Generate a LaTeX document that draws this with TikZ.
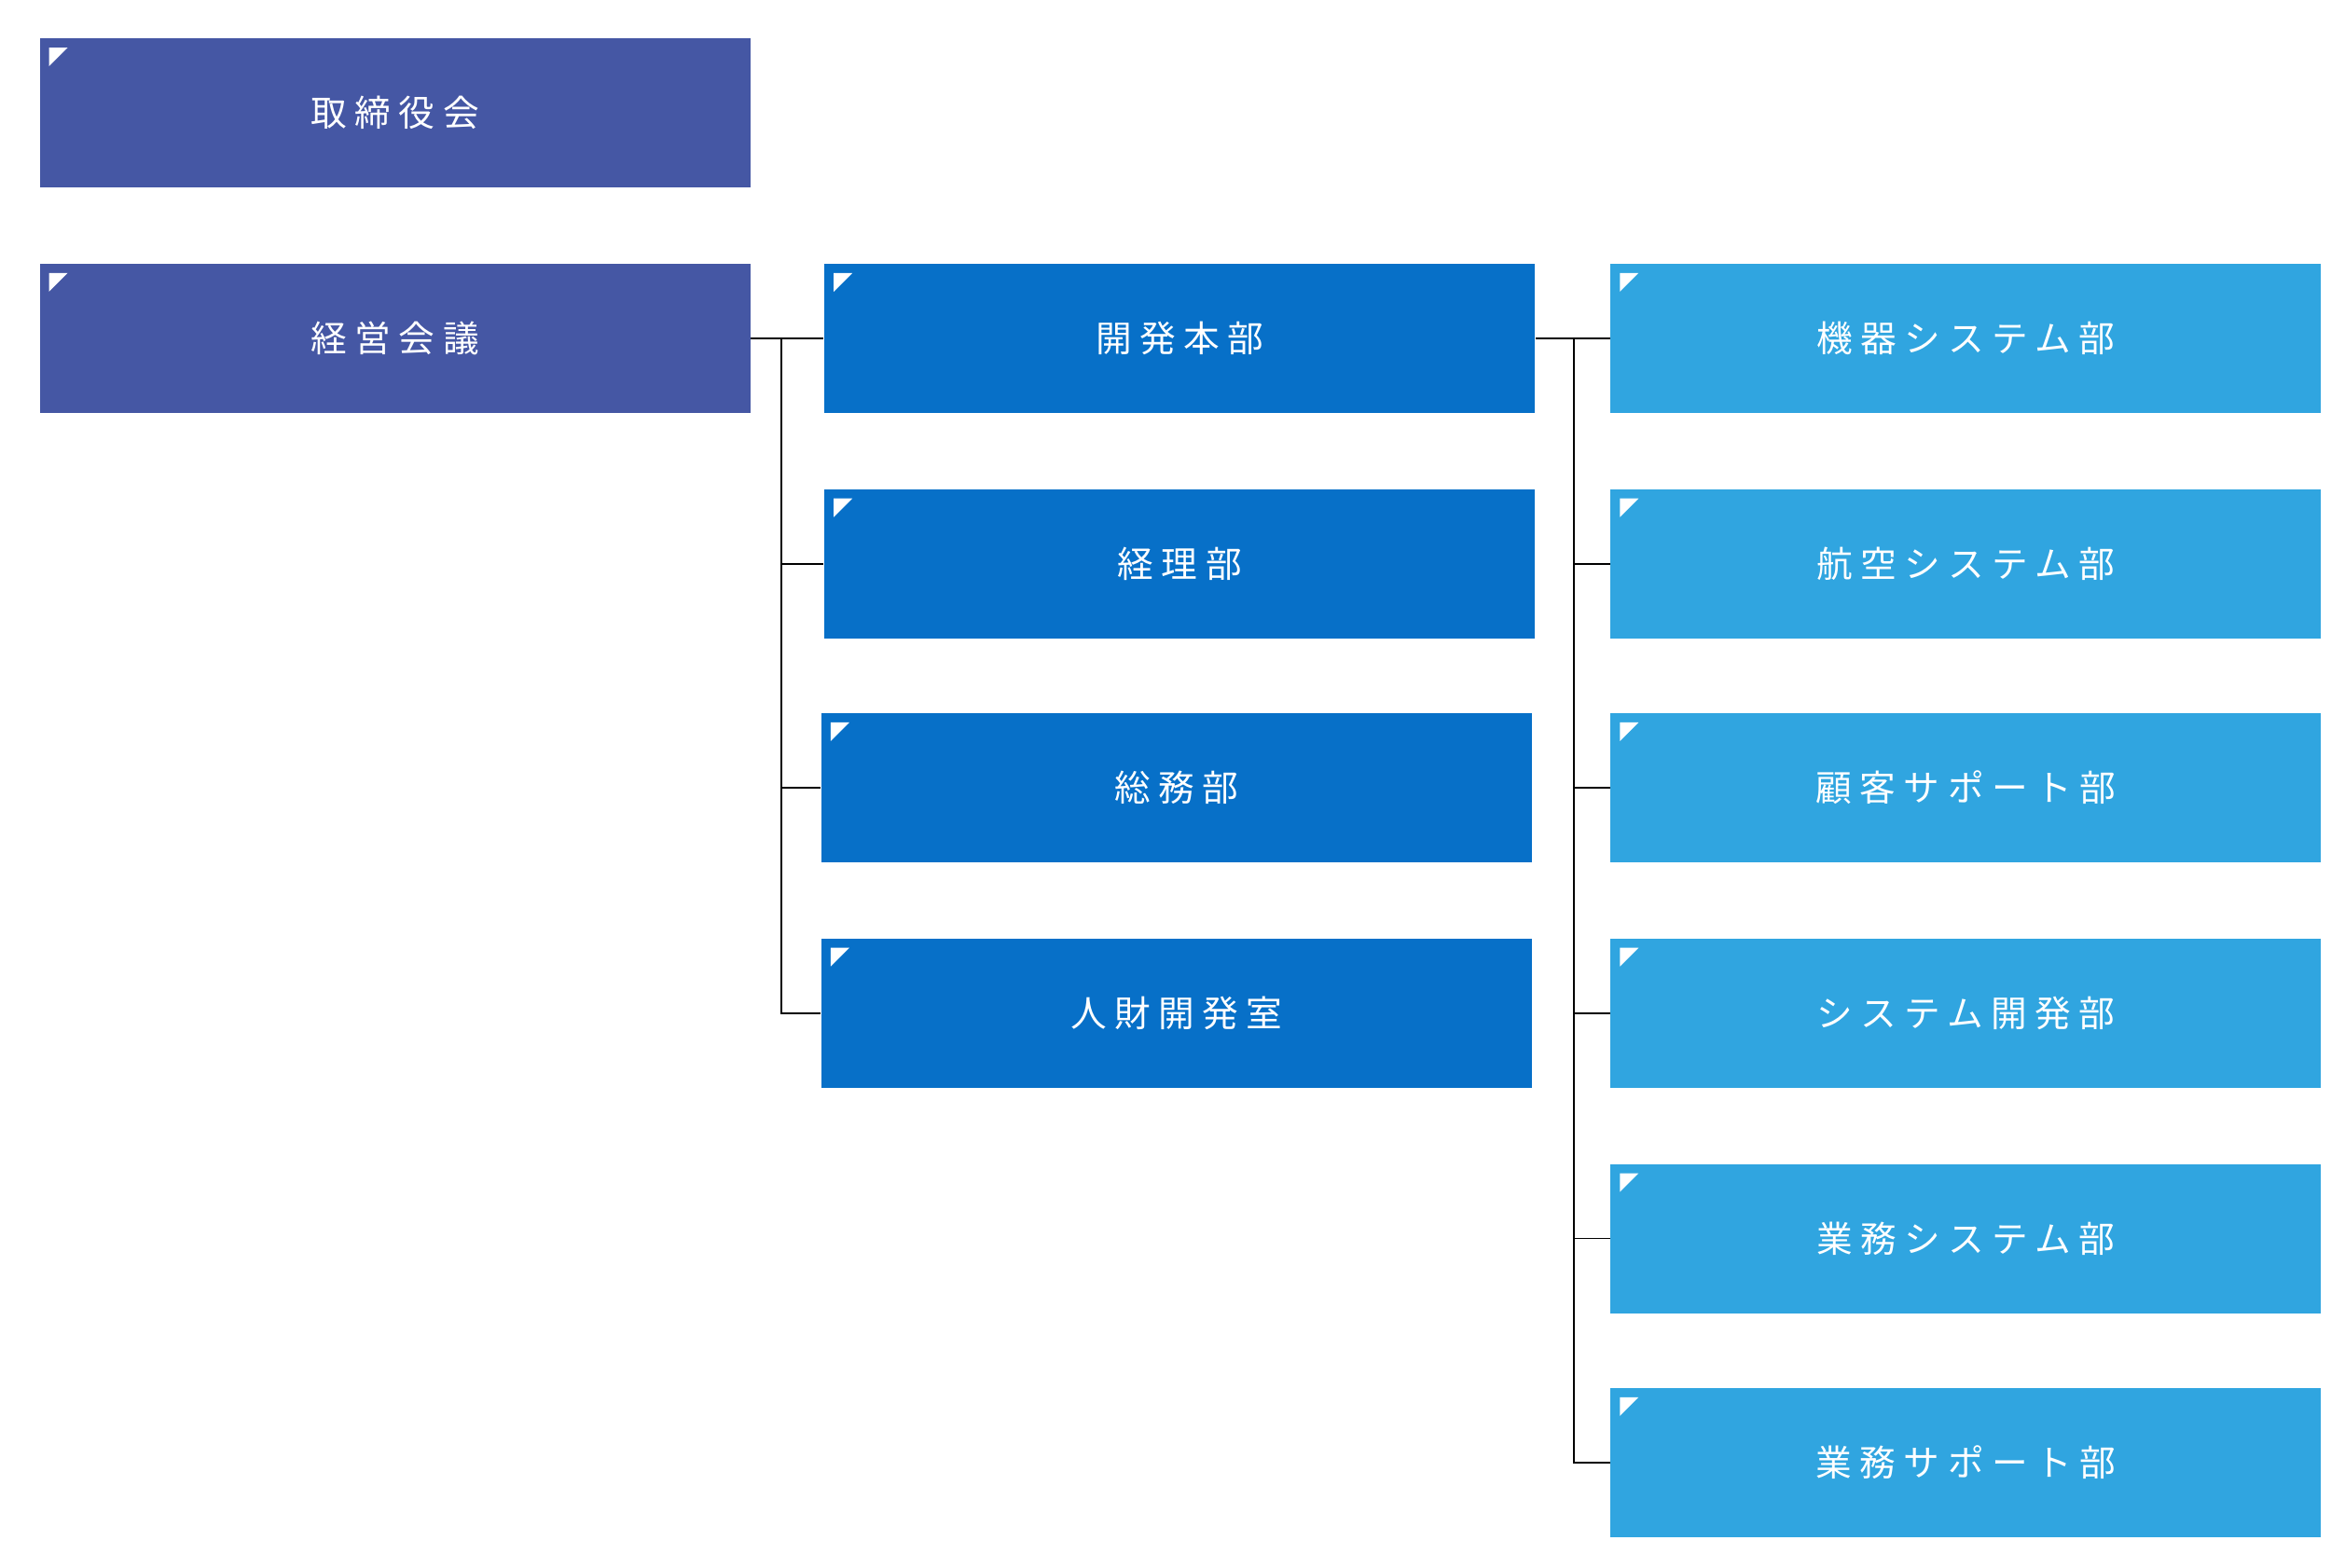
\documentclass[tikz,border=0pt]{standalone}
\usepackage{fontspec}
\setmainfont{Noto Sans CJK JP}
\usepackage{tikz}
\definecolor{boardblue}{HTML}{4557A4}
\definecolor{deptblue}{HTML}{0770C8}
\definecolor{unitblue}{HTML}{30A5E0}
\tikzset{
  orgbox/.style={anchor=north west,minimum width=76.2mm,minimum height=16mm,
    inner sep=0pt,text=white,font=\addfontfeatures{LetterSpace=22}\fontsize{11pt}{13pt}\selectfont,
    path picture={\fill[white] ([shift={(1mm,-1mm)}]path picture bounding box.north west)
      -- ++(2mm,0) -- ++(-2mm,-2mm) -- cycle;}},
  boardbox/.style={orgbox,fill=boardblue},
  deptbox/.style={orgbox,fill=deptblue},
  unitbox/.style={orgbox,fill=unitblue},
  link/.style={line width=.5pt,black}
}
\begin{document}
\begin{tikzpicture}[x=0.1612mm,y=-0.1612mm]
\useasboundingbox (0,0) rectangle (1560,1043);
\node[boardbox] (board) at (26,25) {取締役会};
\node[boardbox] (exec) at (26,175) {経営会議};
% departments
\node[deptbox] (dev) at (548,175) {開発本部};
\node[deptbox] (acct) at (548,325) {経理部};
\node[deptbox] (gen) at (546,474) {総務部};
\node[deptbox] (hr) at (546,624) {人財開発室};
% units under dev
\node[unitbox] (u1) at (1071,175) {機器システム部};
\node[unitbox] (u2) at (1071,325) {航空システム部};
\node[unitbox] (u3) at (1071,474) {顧客サポート部};
\node[unitbox] (u4) at (1071,624) {システム開発部};
\node[unitbox] (u5) at (1071,774) {業務システム部};
\node[unitbox] (u6) at (1071,923) {業務サポート部};
% connectors
\coordinate (busa) at (520,0);
\coordinate (busb) at (1047,0);
\draw[link] (exec.east) -- (dev.west);
\foreach \n in {acct,gen,hr}
  \draw[link] (exec.east) -| (busa |- \n.west) -- (\n.west);
\draw[link] (dev.east) -- (u1.west);
\foreach \n in {u2,u3,u4,u5,u6}
  \draw[link] (dev.east) -| (busb |- \n.west) -- (\n.west);
\end{tikzpicture}
\end{document}
